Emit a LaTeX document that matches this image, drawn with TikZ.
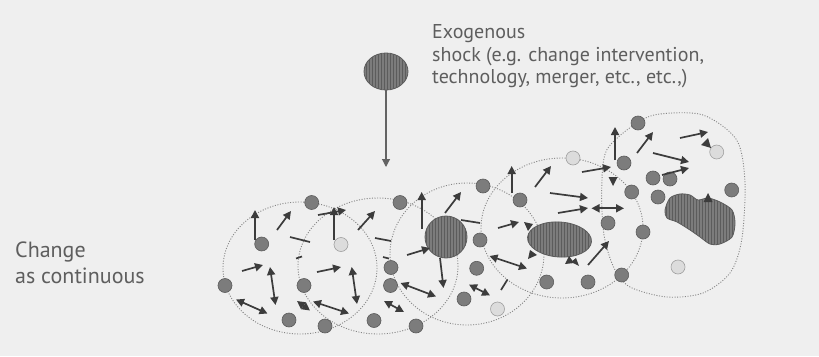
\documentclass[tikz,border=0pt]{standalone}
\usepackage{fontspec}
\newfontfamily\labelfont{PT Sans}
\usetikzlibrary{arrows.meta,shapes.geometric,patterns}
\definecolor{bgc}{HTML}{EFEFEF}
\definecolor{txt}{HTML}{5E5E5E}
\definecolor{arrc}{HTML}{3C3C3C}
\definecolor{dotf}{HTML}{7C7C7C}
\definecolor{dotd}{HTML}{5C5C5C}
\definecolor{lightf}{HTML}{DCDCDC}
\definecolor{lightd}{HTML}{A0A0A0}
\definecolor{outc}{HTML}{858585}
\tikzset{
  dot/.style={circle,minimum size=14pt,inner sep=0pt,fill=dotf,draw=dotd,line width=0.6pt},
  ldot/.style={circle,minimum size=14pt,inner sep=0pt,fill=lightf,draw=lightd,line width=0.6pt},
  arr/.style={draw=arrc,line width=1.7pt,-{Triangle[length=8pt,width=8pt]}},
  darr/.style={draw=arrc,line width=1.7pt,{Triangle[length=8pt,width=8pt]}-{Triangle[length=8pt,width=8pt]}},
  dashln/.style={draw=arrc,line width=1.7pt},
  outl/.style={draw=outc,line width=0.9pt,dash pattern=on 1pt off 1.6pt},
  blob/.style={fill=dotf,draw=dotd,line width=0.8pt,postaction={pattern=vertical lines,pattern color=dotd}},
  head/.style={fill=arrc},
  lbl/.style={inner sep=0pt,text=txt,anchor=base west}
}
\begin{document}
\begin{tikzpicture}[x=1pt,y=-1pt]
\useasboundingbox (0,0) rectangle (819,356);
\fill[bgc] (0,0) rectangle (819,356);

% dotted boundaries
\draw[outl] (300,268) ellipse [x radius=77, y radius=66];
\draw[outl] (378,266) ellipse [x radius=80, y radius=68];
\draw[outl] (467,254) ellipse [x radius=77, y radius=71];
\draw[outl] (562,228) ellipse [x radius=81, y radius=70];
\draw[outl] plot[smooth cycle] coordinates {(606.7,150) (636.7,123) (660,114) (703,115) (736.7,140) (745,183) (741.7,240) (730,273) (703,293) (666.7,297) (630,287) (614,268) (604,235) (601.7,190)};

% large shapes
\node[ellipse,blob,minimum width=44pt,minimum height=37pt,inner sep=0pt] (shock) at (386,71.5) {};
\node[circle,blob,minimum width=42pt,minimum height=40pt,inner sep=0pt] (big) at (446,237) {};
\node[ellipse,blob,minimum width=64pt,minimum height=35pt,inner sep=0pt,rotate=-4] (mid) at (559.5,239.5) {};
\draw[blob] plot[smooth cycle] coordinates {(665,210) (670,198) (680,194) (690,195) (698,200) (708,198) (720,202) (732,210) (735,223) (732,237) (720,244) (710,244) (700,237) (690,230) (677,222) (667,218)};

% dark dots
\foreach \n/\x/\y in {1/261.7/244, 2/311.7/202.5, 3/225/285.5, 4/304/285.5, 5/289/320, 6/325/326,
  7/374/320.5, 8/400/202.5, 9/391/267.5, 10/390.5/285.5, 11/416/326, 13/483/186, 14/480/240,
  15/476.7/268.3, 16/464/299, 17/520/200, 18/546.7/282, 19/588/282, 20/638/123, 21/624/163,
  22/631.7/192, 23/608/223, 24/643/232, 25/621.7/275, 26/653/178, 27/670/179, 28/658/197, 29/731.7/190}
  \node[dot] (d\n) at (\x,\y) {};
% light dots
\foreach \n/\x/\y in {1/341/244.5, 2/497.5/309, 3/573/158, 4/716.7/152, 5/678/267}
  \node[ldot] (l\n) at (\x,\y) {};

% single arrows
\foreach \n/\xa/\ya/\xb/\yb in {1/255/240/255/210, 2/277/230/291/211, 3/334/240/334/207, 4/318/215/346/210,
  5/358/230/375/211, 6/242/271/263/265, 7/317/272/341/267, 8/421.7/229/421.7/192, 9/445/213/461/192,
  10/407/255/430/248, 11/440/258/443.5/288, 12/498/228/519/222, 13/511.7/193/511.7/166, 14/535/187/551/166,
  15/550/193/588/198, 16/558/213/588/208, 17/582/172/611/167, 18/615/160/615/127, 19/637/153/653/132,
  20/680/138/708/132, 21/653/153/689/162, 22/662/175/689/168, 23/588/265/609/241}
{
  \coordinate (as\n) at (\xa,\ya);
  \coordinate (ae\n) at (\xb,\yb);
  \draw[arr] (as\n) -- (ae\n);
}
\coordinate (shockend) at (386,167);
\draw[draw=arrc!80,line width=1.1pt,-{Triangle[length=8pt,width=8pt]}] (shock.south) -- (shockend);

% double arrows
\foreach \n/\xa/\ya/\xb/\yb in {1/270/267/275.5/305, 2/236/299.5/267.5/313.5, 3/351.7/267/357/304,
  4/313/301.5/349/313.5, 5/400.5/283/436/296.5, 6/489.5/256/527/268.5, 7/591.5/208.3/624/208.3,
  8/297/301/310/310.5, 9/384/301/404/312, 10/469/284.5/490/295.5}
{
  \coordinate (ws\n) at (\xa,\ya);
  \coordinate (we\n) at (\xb,\yb);
  \draw[darr] (ws\n) -- (we\n);
}

% plain strokes
\foreach \n/\xa/\ya/\xb/\yb in {1/290/237/310/242, 2/375/238/391/241, 3/296/258.5/302/256.5,
  4/383/257/389/258.5, 5/461/220/480/223, 6/501/290/507.5/279.5}
{
  \coordinate (ss\n) at (\xa,\ya);
  \coordinate (se\n) at (\xb,\yb);
  \draw[dashln] (ss\n) -- (se\n);
}

% loose arrow heads
\fill[head] (613,186) -- (608.5,177) -- (617.5,177) -- cycle;
\fill[head] (711,148) -- (701,145) -- (708,138) -- cycle;
\fill[head] (708,193) -- (703.5,202) -- (712.5,202) -- cycle;
\fill[head] (524,222) -- (533,224) -- (528,231) -- cycle;
\fill[head] (528,259) -- (530,250) -- (537,255) -- cycle;
\fill[head] (565,264) -- (569,256) -- (574,263) -- cycle;
\fill[head] (579,266) -- (571,262) -- (576,258) -- cycle;

% labels
\node[lbl,font=\labelfont\fontsize{20}{23}\selectfont] (t1) at (432,38) {Exogenous};
\node[lbl,font=\labelfont\fontsize{20}{23}\selectfont] (t2) at (432,61) {shock (e.g. change intervention,};
\node[lbl,font=\labelfont\fontsize{20}{23}\selectfont] (t3) at (432,83) {technology, merger, etc., etc.,)};
\node[lbl,font=\labelfont\fontsize{22}{26}\selectfont] (c1) at (15,257) {Change};
\node[lbl,font=\labelfont\fontsize{22}{26}\selectfont] (c2) at (15,283) {as continuous};
\end{tikzpicture}
\end{document}
